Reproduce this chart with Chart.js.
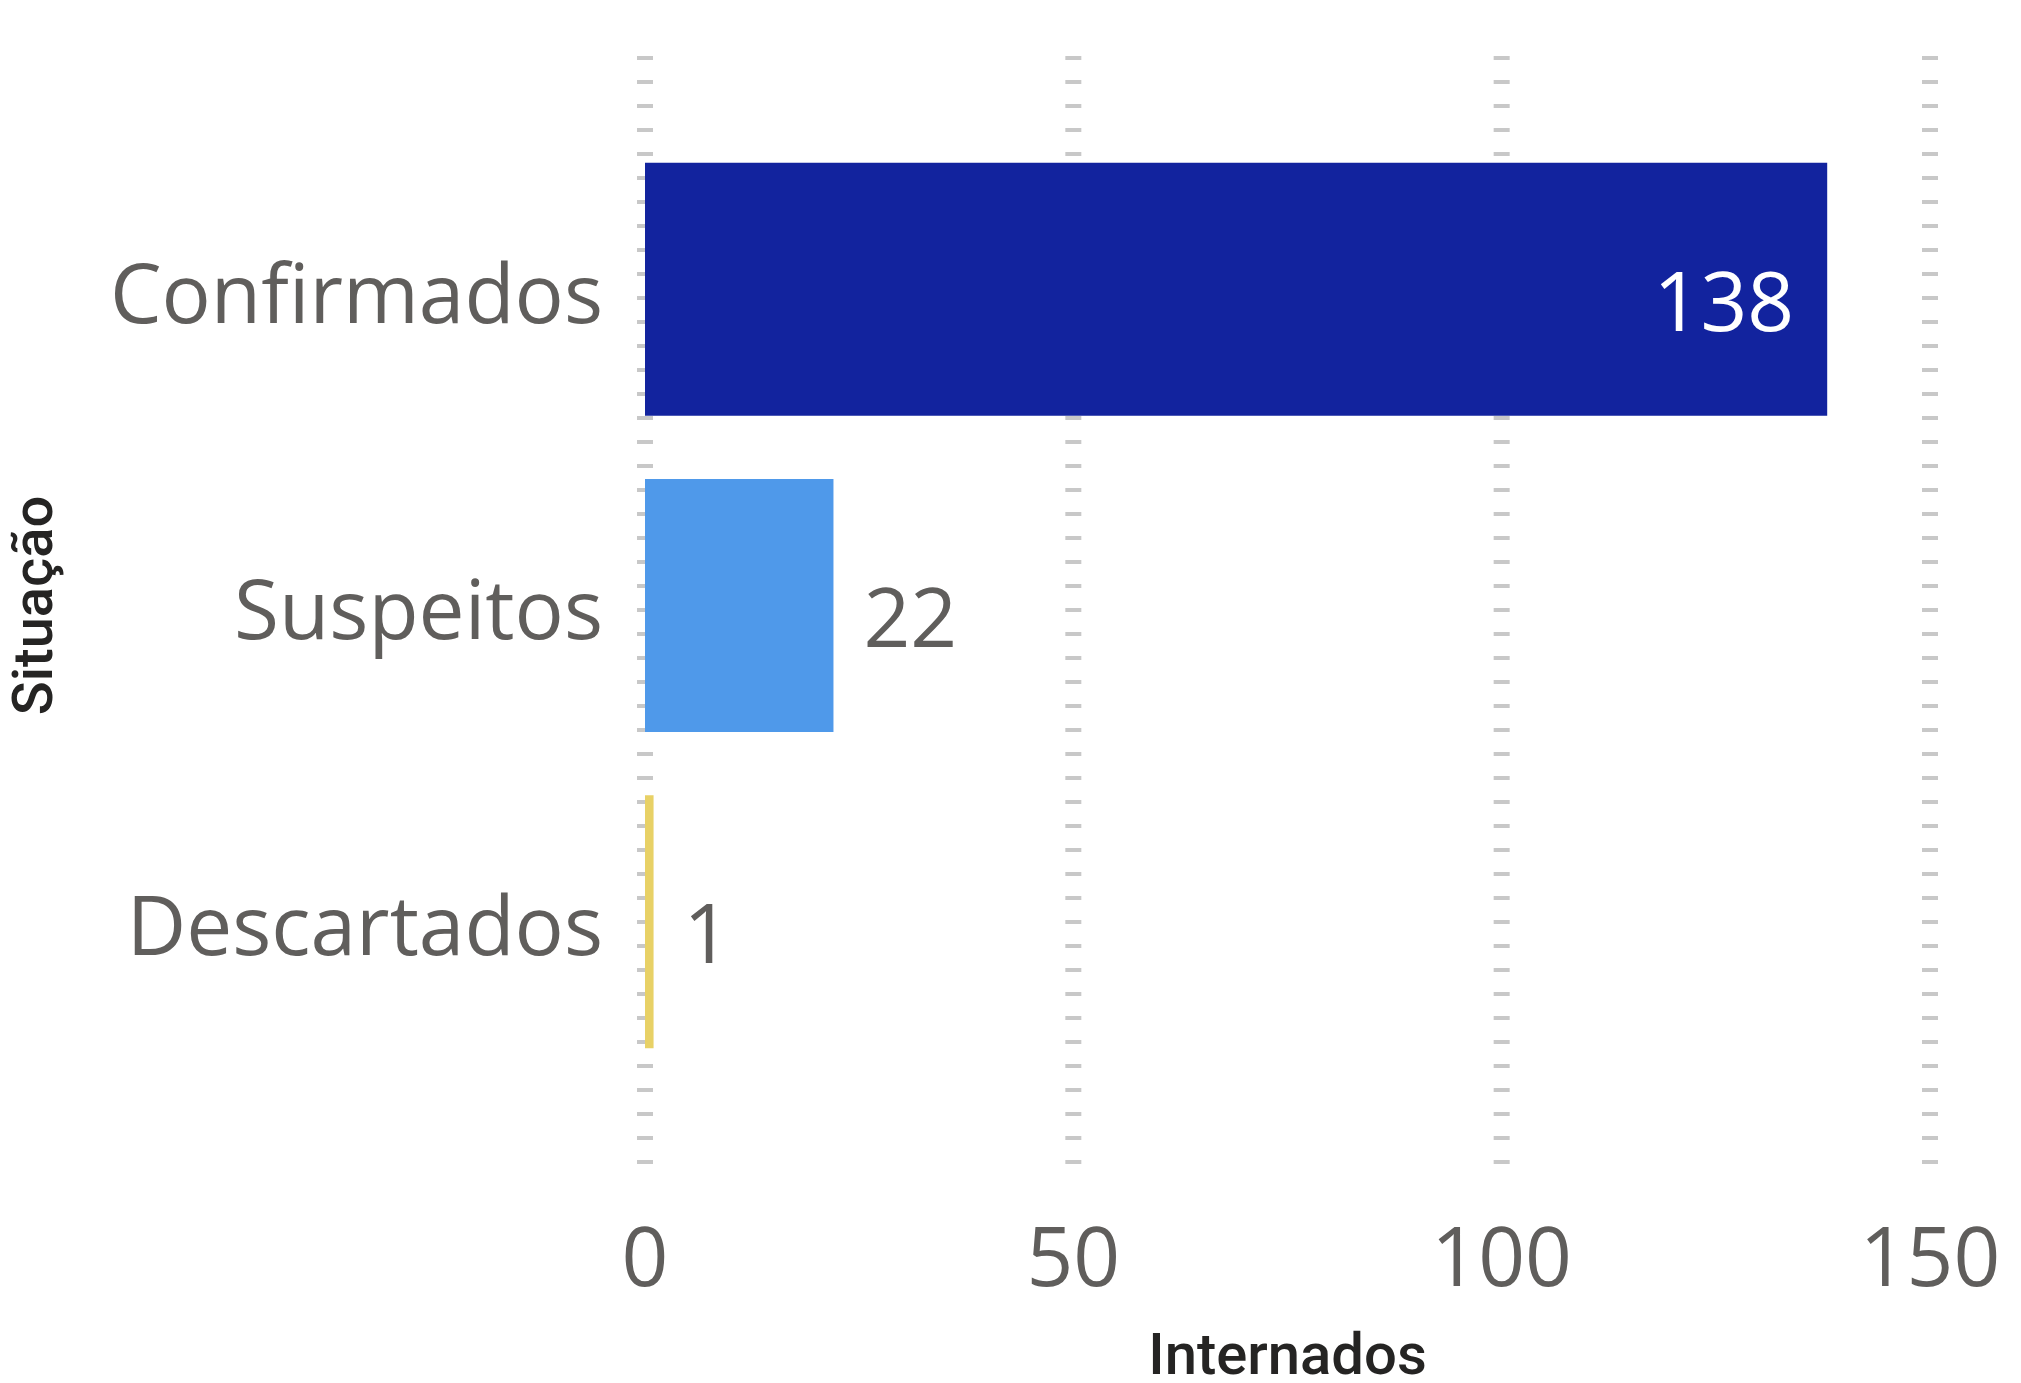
<!DOCTYPE html>
<html>
<head>
<meta charset="utf-8">
<script src="https://cdn.jsdelivr.net/npm/chart.js@4.4.1/dist/chart.umd.min.js"></script>
<style>
  html, body { margin: 0; background: #fff; }
</style>
</head>
<body>
<canvas id="chart" width="2021" height="1383"></canvas>
<script>
const categories = ["Confirmados", "Suspeitos", "Descartados"];
const internados = [138, 22, 1];
const barColors = ["#12239E", "#4F99EA", "#E8D166"];
const xTickValues = [0, 50, 100, 150];

const textGray = "#605E5C";
const labelFont = "'Open Sans', 'Noto Sans', sans-serif";
const titleFont = "Roboto, 'DejaVu Sans', sans-serif";

// dashed vertical grid, runs a bit past the bar area like the original
const dashedGrid = {
  id: "dashedGrid",
  beforeDatasetsDraw(chart) {
    const { ctx, chartArea, scales } = chart;
    const x = scales.x;
    ctx.save();
    ctx.strokeStyle = "#C8C8C8";
    ctx.lineWidth = 16;
    ctx.setLineDash([4, 20]);
    const top = chartArea.top - 75;
    const bottom = chartArea.bottom + 104;
    x.ticks.forEach(t => {
      const px = x.getPixelForValue(t.value);
      ctx.beginPath();
      ctx.moveTo(px, top);
      ctx.lineTo(px, bottom);
      ctx.stroke();
    });
    ctx.restore();
  }
};

// value labels: inside end for big bars, outside for small ones
const valueLabels = {
  id: "valueLabels",
  afterDatasetsDraw(chart) {
    const { ctx } = chart;
    const meta = chart.getDatasetMeta(0);
    ctx.save();
    ctx.font = "82px " + labelFont;
    ctx.textBaseline = "middle";
    meta.data.forEach((bar, i) => {
      const v = internados[i];
      if (v > 100) {
        ctx.fillStyle = "#FFFFFF";
        ctx.textAlign = "right";
        ctx.fillText(String(v), bar.x - 33, bar.y + 18);
      } else {
        ctx.fillStyle = textGray;
        ctx.textAlign = "left";
        ctx.fillText(String(v), bar.x + 30, bar.y + 18);
      }
    });
    ctx.restore();
  }
};

new Chart(document.getElementById("chart"), {
  type: "bar",
  data: {
    labels: categories,
    datasets: [{
      data: internados,
      backgroundColor: barColors,
      borderWidth: 0,
      barPercentage: 0.8,
      categoryPercentage: 1.0
    }]
  },
  options: {
    indexAxis: "y",
    responsive: false,
    animation: false,
    devicePixelRatio: 1,
    layout: { padding: { top: 131, right: 91, left: 0, bottom: 0 } },
    plugins: {
      legend: { display: false },
      tooltip: { enabled: false }
    },
    scales: {
      x: {
        type: "linear",
        min: 0,
        max: 150,
        afterBuildTicks: s => { s.ticks = xTickValues.map(v => ({ value: v })); },
        afterFit: s => { s.height = 303; s.paddingLeft = 0; s.paddingRight = 0; },
        grid: { display: false, drawTicks: false },
        border: { display: false },
        ticks: {
          color: textGray,
          padding: 133,
          font: { family: labelFont, size: 82 }
        },
        title: {
          display: true,
          text: "Internados",
          color: "#252423",
          padding: { top: 0, bottom: 0 },
          font: { family: titleFont, size: 58, weight: "500", lineHeight: 0.8 }
        }
      },
      y: {
        afterFit: s => { s.width = 645; s.paddingTop = 0; s.paddingBottom = 0; },
        grid: { display: false, drawTicks: false },
        border: { display: false },
        ticks: {
          color: textGray,
          padding: 42,
          labelOffset: 10,
          font: { family: labelFont, size: 82 }
        },
        title: {
          display: true,
          text: "Situação",
          color: "#252423",
          padding: { top: 10, bottom: 0 },
          font: { family: titleFont, size: 56, weight: "500", lineHeight: 1 }
        }
      }
    }
  },
  plugins: [dashedGrid, valueLabels]
});
</script>
</body>
</html>
